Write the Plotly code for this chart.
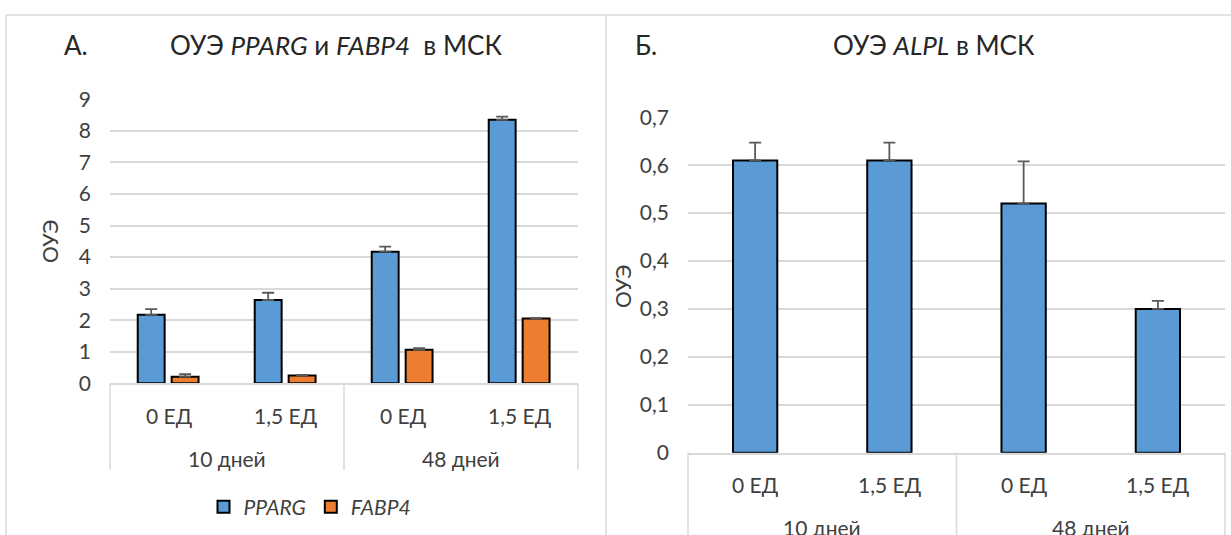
import plotly.graph_objects as go

# ---------------- data ----------------
groups = ["10 дней", "10 дней", "48 дней", "48 дней"]
doses = ["0 ЕД", "1,5 ЕД", "0 ЕД", "1,5 ЕД"]
group_names = ["10 дней", "48 дней"]

series_left = ["PPARG", "FABP4"]
pparg = [2.17, 2.64, 4.17, 8.35]
pparg_err = [0.18, 0.23, 0.16, 0.10]
fabp4 = [0.21, 0.25, 1.06, 2.05]
fabp4_err = [0.08, 0.02, 0.05, 0.02]

alpl = [0.61, 0.61, 0.52, 0.30]
alpl_err = [0.037, 0.037, 0.088, 0.017]

left_yticks = [0, 1, 2, 3, 4, 5, 6, 7, 8, 9]
right_yticks = [0, 0.1, 0.2, 0.3, 0.4, 0.5, 0.6, 0.7]

title_left_letter = "А."
title_left = "ОУЭ <i>PPARG</i> и <i>FABP4</i>\u00a0 в МСК"
title_right_letter = "Б."
title_right = "ОУЭ <i>ALPL</i> в МСК"
y_title = "ОУЭ"

# ---------------- style ----------------
W, H = 1231, 535
FONT = "Lato"
BLUE = "#5b9bd5"
ORANGE = "#ed7d31"
GRID = "#d9d9d9"
TXT = "#404040"
TTL = "#262626"
TICK_SIZE = 21
TITLE_SIZE = 26


def px(x):
    return x / W


def py(y):
    return 1 - y / H


cats = [f"{g} | {d}" for g, d in zip(groups, doses)]

err_style = dict(type="data", symmetric=False, color="#595959", thickness=1.8, width=6)

fig = go.Figure()

fig.add_trace(go.Bar(
    x=cats, y=pparg, name=f"<i>{series_left[0]}</i>", xaxis="x", yaxis="y",
    marker=dict(color=BLUE, line=dict(color="#000000", width=2)),
    width=0.23, offset=-0.263,
    error_y=dict(array=pparg_err, arrayminus=[0] * len(pparg), **err_style),
))
fig.add_trace(go.Bar(
    x=cats, y=fabp4, name=f"<i>{series_left[1]}</i>", xaxis="x", yaxis="y",
    marker=dict(color=ORANGE, line=dict(color="#000000", width=2)),
    width=0.23, offset=0.027,
    error_y=dict(array=fabp4_err, arrayminus=[0] * len(fabp4), **err_style),
))
fig.add_trace(go.Bar(
    x=cats, y=alpl, name="ALPL", xaxis="x2", yaxis="y2", showlegend=False,
    marker=dict(color=BLUE, line=dict(color="#000000", width=2)),
    width=0.33,
    error_y=dict(array=alpl_err, arrayminus=[0] * len(alpl), **err_style),
))

xcommon = dict(type="category", categoryorder="array", categoryarray=cats,
               range=[-0.5, len(cats) - 0.5], showticklabels=False, showgrid=False,
               showline=True, linecolor=GRID, linewidth=1.5, ticks="", zeroline=False,
               fixedrange=True, automargin=False)
ycommon = dict(showgrid=True, gridcolor=GRID, gridwidth=1.5, zeroline=False,
               showline=False, ticks="", ticklabelstandoff=18, automargin=False,
               tickfont=dict(family=FONT, size=TICK_SIZE, color=TXT), fixedrange=True)

fig.update_layout(
    width=W, height=H,
    margin=dict(l=0, r=0, t=0, b=0, pad=0, autoexpand=False),
    paper_bgcolor="white", plot_bgcolor="white",
    separators=", ",
    barmode="group",
    font=dict(family=FONT, color=TXT),
    xaxis=dict(domain=[px(110), px(578)], anchor="y", **xcommon),
    yaxis=dict(domain=[py(383.3), py(99.3)], anchor="x", range=[0, 9],
               tickvals=left_yticks, **ycommon),
    xaxis2=dict(domain=[px(688), px(1225)], anchor="y2", **xcommon),
    yaxis2=dict(domain=[py(452.7), py(117.3)], anchor="x2", range=[0, 0.7],
                tickvals=right_yticks, **ycommon),
    legend=dict(orientation="h", x=px(310), xanchor="center", y=py(507), yanchor="middle",
                font=dict(family=FONT, size=21, color=TXT), itemwidth=30,
                bgcolor="rgba(0,0,0,0)"),
)

ann = []


def text_ann(text, x, y, size, color, **kw):
    d = dict(text=text, x=x, y=y, showarrow=False, xanchor="center", yanchor="middle",
             font=dict(family=FONT, size=size, color=color))
    d.setdefault("xref", "paper")
    d.setdefault("yref", "paper")
    d.update(kw)
    return d


# titles
ann.append(text_ann(title_left_letter, px(76), py(45), TITLE_SIZE, TTL))
ann.append(text_ann(title_left, px(336), py(45), TITLE_SIZE, TTL))
ann.append(text_ann(title_right_letter, px(646), py(45), TITLE_SIZE, TTL))
ann.append(text_ann(title_right, px(934), py(45), TITLE_SIZE, TTL))
# y titles
ann.append(text_ann(y_title, px(49), py(242), TICK_SIZE, TXT, textangle=-90))
ann.append(text_ann(y_title, px(622), py(287), TICK_SIZE, TXT, textangle=-90))

# category labels (dose level and group level) for both panels
panels = [("x", 383.3, 470), ("x2", 452.7, 535)]
for xr, axis_y, box_bottom in panels:
    for c, d in zip(cats, doses):
        ann.append(text_ann(d, c, py(axis_y + 32), TICK_SIZE, TXT, xref=xr))
    for g in group_names:
        idx = [i for i, gg in enumerate(groups) if gg == g]
        xmid = (idx[0] + idx[-1]) / 2
        ann.append(text_ann(g, xmid, py(axis_y + 75), TICK_SIZE, TXT, xref=xr))

shapes = []
line = dict(color=GRID, width=1.5)
for xr, axis_y, box_bottom in panels:
    dom = xr + " domain"
    for xv in (0, 1):
        shapes.append(dict(type="line", xref=dom, yref="paper", x0=xv, x1=xv,
                           y0=py(axis_y), y1=py(box_bottom), line=line))
    first_g2 = groups.index(group_names[1])
    shapes.append(dict(type="line", xref=xr, yref="paper", x0=first_g2 - 0.5, x1=first_g2 - 0.5,
                       y0=py(axis_y), y1=py(box_bottom), line=line))

# panel frames
shapes.append(dict(type="line", xref="paper", yref="paper", x0=px(6), x1=1, y0=py(15), y1=py(15), line=line))
shapes.append(dict(type="line", xref="paper", yref="paper", x0=px(6), x1=px(6), y0=py(15), y1=0, line=line))
shapes.append(dict(type="line", xref="paper", yref="paper", x0=px(606), x1=px(606), y0=py(15), y1=0, line=line))

fig.update_layout(annotations=ann, shapes=shapes)

fig.write_html(
    "out.html",
    config={"displayModeBar": False},
    post_script="document.body.style.margin='0';document.body.style.overflow='hidden';",
)
